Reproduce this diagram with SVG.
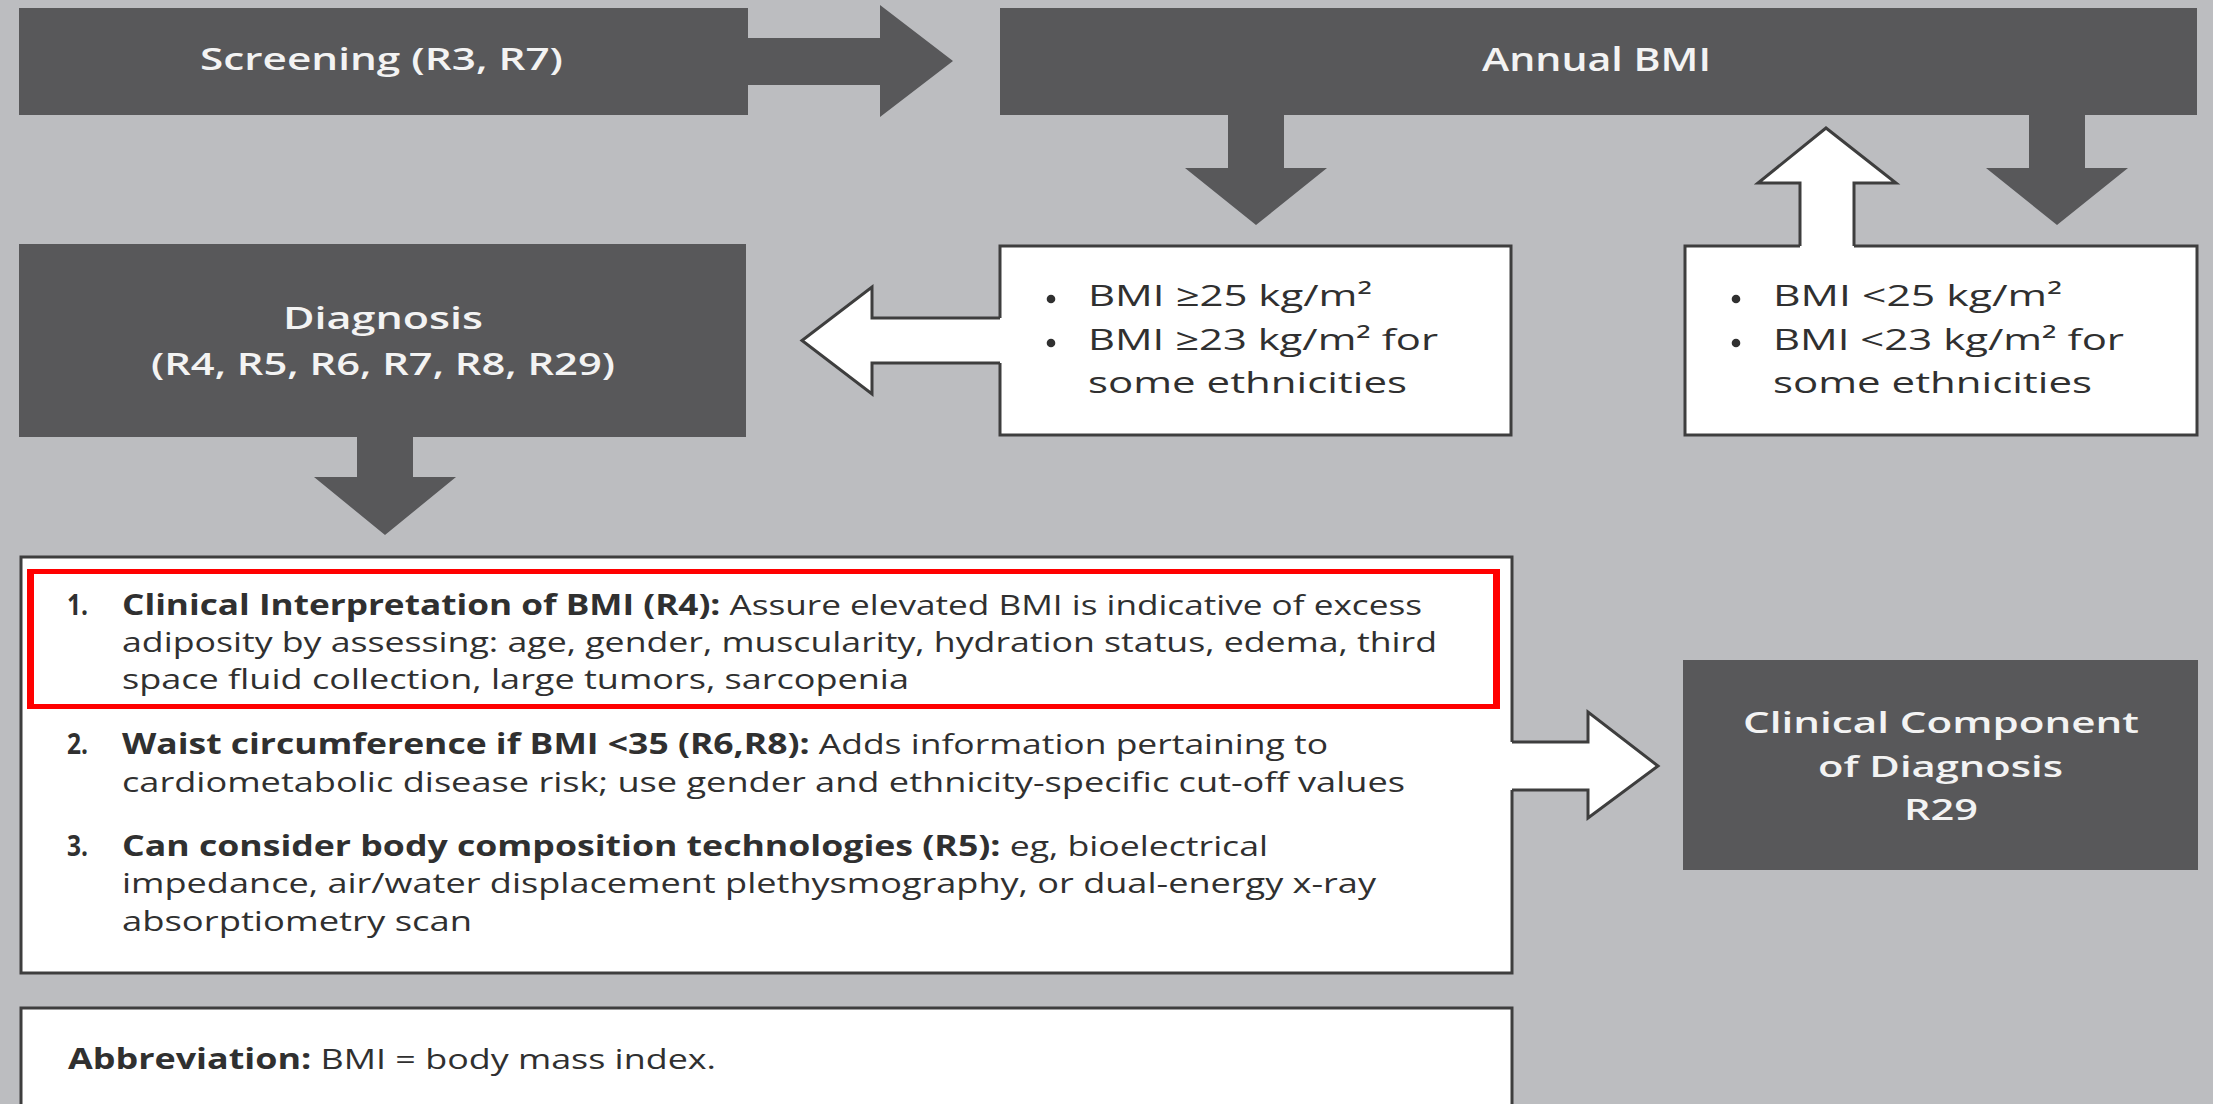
<svg xmlns="http://www.w3.org/2000/svg" width="2213" height="1104" viewBox="0 0 2213 1104">
  <style>
    .dark { fill: #58585a; }
    .wbox { fill: #ffffff; stroke: #3e3e3e; stroke-width: 3; }
    .wfill { fill: #ffffff; }
    .wline { fill: none; stroke: #3e3e3e; stroke-width: 3; stroke-linejoin: miter; }
    .dot { fill: #303030; }
    .lt { font-family: "Open Sans", "Noto Sans", "Liberation Sans", sans-serif; fill: #f3f3f3; font-weight: 600; }
    .bt { font-family: "Open Sans", "Noto Sans", "Liberation Sans", sans-serif; fill: #303030; font-size: 28px; }
    .bl { font-family: "Open Sans", "Noto Sans", "Liberation Sans", sans-serif; fill: #303030; font-size: 30px; }
    .b { font-weight: 700; }
  </style>

  <!-- page background -->
  <rect x="0" y="0" width="2213" height="1104" fill="#bcbdc0"/>

  <!-- Screening -->
  <g id="screening">
    <rect class="dark" x="19" y="8" width="729" height="107"/>
    <text class="lt" x="200" y="70" font-size="31" textLength="363" lengthAdjust="spacingAndGlyphs">Screening (R3, R7)</text>
  </g>

  <!-- Annual BMI -->
  <g id="annual-bmi">
    <rect class="dark" x="1000" y="8" width="1197" height="107"/>
    <text class="lt" x="1482" y="71" font-size="32" textLength="229" lengthAdjust="spacingAndGlyphs">Annual BMI</text>
  </g>

  <!-- Diagnosis -->
  <g id="diagnosis">
    <rect class="dark" x="19" y="244" width="727" height="193"/>
    <text class="lt" x="283" y="329" font-size="31" textLength="200" lengthAdjust="spacingAndGlyphs">Diagnosis</text>
    <text class="lt" x="151" y="375" font-size="31" textLength="464" lengthAdjust="spacingAndGlyphs">(R4, R5, R6, R7, R8, R29)</text>
  </g>

  <!-- BMI at or above threshold -->
  <g id="bmi-high">
    <rect class="wbox" x="1000" y="246" width="511" height="189"/>
    <circle class="dot" cx="1051" cy="299" r="4.3"/>
    <text class="bl" x="1088" y="306" textLength="284" lengthAdjust="spacingAndGlyphs">BMI ≥25 kg/m²</text>
    <circle class="dot" cx="1051" cy="343" r="4.3"/>
    <text class="bl" x="1088" y="350" textLength="350" lengthAdjust="spacingAndGlyphs">BMI ≥23 kg/m² for</text>
    <text class="bl" x="1088" y="393" textLength="319" lengthAdjust="spacingAndGlyphs">some ethnicities</text>
  </g>

  <!-- BMI below threshold -->
  <g id="bmi-low">
    <rect class="wbox" x="1685" y="246" width="512" height="189"/>
    <circle class="dot" cx="1736" cy="299" r="4.3"/>
    <text class="bl" x="1773" y="306" textLength="289" lengthAdjust="spacingAndGlyphs">BMI &lt;25 kg/m²</text>
    <circle class="dot" cx="1736" cy="343" r="4.3"/>
    <text class="bl" x="1773" y="350" textLength="351" lengthAdjust="spacingAndGlyphs">BMI &lt;23 kg/m² for</text>
    <text class="bl" x="1773" y="393" textLength="319" lengthAdjust="spacingAndGlyphs">some ethnicities</text>
  </g>

  <!-- Diagnostic steps -->
  <g id="steps">
    <rect class="wbox" x="21" y="557" width="1491" height="416"/>
    <path fill="#ff0000" fill-rule="evenodd" d="M27 569 H1500 V709 H27 Z M34 574 V704 H1493 V574 Z"/>

    <text class="bt b" x="67" y="615" textLength="21" lengthAdjust="spacingAndGlyphs">1.</text>
    <text class="bt" x="122" y="615" textLength="1300" lengthAdjust="spacingAndGlyphs"><tspan class="b">Clinical Interpretation of BMI (R4):</tspan> Assure elevated BMI is indicative of excess</text>
    <text class="bt" x="122" y="652" textLength="1315" lengthAdjust="spacingAndGlyphs">adiposity by assessing: age, gender, muscularity, hydration status, edema, third</text>
    <text class="bt" x="122" y="689" textLength="787" lengthAdjust="spacingAndGlyphs">space fluid collection, large tumors, sarcopenia</text>

    <text class="bt b" x="67" y="754" textLength="21" lengthAdjust="spacingAndGlyphs">2.</text>
    <text class="bt" x="122" y="754" textLength="1206" lengthAdjust="spacingAndGlyphs"><tspan class="b">Waist circumference if BMI &lt;35 (R6,R8):</tspan> Adds information pertaining to</text>
    <text class="bt" x="122" y="792" textLength="1283" lengthAdjust="spacingAndGlyphs">cardiometabolic disease risk; use gender and ethnicity-specific cut-off values</text>

    <text class="bt b" x="67" y="856" textLength="21" lengthAdjust="spacingAndGlyphs">3.</text>
    <text class="bt" x="122" y="856" textLength="1146" lengthAdjust="spacingAndGlyphs"><tspan class="b">Can consider body composition technologies (R5):</tspan> eg, bioelectrical</text>
    <text class="bt" x="122" y="893" textLength="1254" lengthAdjust="spacingAndGlyphs">impedance, air/water displacement plethysmography, or dual-energy x-ray</text>
    <text class="bt" x="122" y="931" textLength="350" lengthAdjust="spacingAndGlyphs">absorptiometry scan</text>
  </g>

  <!-- Clinical component -->
  <g id="clinical-component">
    <rect class="dark" x="1683" y="660" width="515" height="210"/>
    <text class="lt" x="1743" y="733" font-size="28" textLength="396" lengthAdjust="spacingAndGlyphs">Clinical Component</text>
    <text class="lt" x="1818" y="777" font-size="28" textLength="245" lengthAdjust="spacingAndGlyphs">of Diagnosis</text>
    <text class="lt" x="1904" y="820" font-size="28" textLength="74" lengthAdjust="spacingAndGlyphs">R29</text>
  </g>

  <!-- Abbreviation note -->
  <g id="abbreviation">
    <rect class="wbox" x="21" y="1008" width="1491" height="110"/>
    <text class="bt" x="68" y="1069" textLength="648" lengthAdjust="spacingAndGlyphs"><tspan class="b">Abbreviation:</tspan> BMI = body mass index.</text>
  </g>

  <!-- Connectors -->
  <g id="connectors">
    <!-- dark block arrows -->
    <polygon class="dark" points="740,38 880,38 880,5 953,61 880,117 880,85 740,85"/>
    <polygon class="dark" points="1228,110 1284,110 1284,168 1327,168 1256,225 1185,168 1228,168"/>
    <polygon class="dark" points="2029,110 2085,110 2085,168 2128,168 2057,225 1986,168 2029,168"/>
    <polygon class="dark" points="357,430 413,430 413,477 456,477 385,535 314,477 357,477"/>

    <!-- white arrow: high BMI to diagnosis -->
    <polygon class="wfill" points="1003,318 872,318 872,287 802,340.5 872,394 872,363 1003,363"/>
    <polyline class="wline" points="1000,318 872,318 872,287 802,340.5 872,394 872,363 1000,363"/>

    <!-- white arrow: low BMI back to annual BMI -->
    <polygon class="wfill" points="1800,249 1800,183 1758,183 1826,128 1896,183 1854,183 1854,249"/>
    <polyline class="wline" points="1800,246 1800,183 1758,183 1826,128 1896,183 1854,183 1854,246"/>

    <!-- white arrow: steps to clinical component -->
    <polygon class="wfill" points="1509,742 1588,742 1588,712 1658,766 1588,818 1588,790 1509,790"/>
    <polyline class="wline" points="1512,742 1588,742 1588,712 1658,766 1588,818 1588,790 1512,790"/>
  </g>
</svg>
